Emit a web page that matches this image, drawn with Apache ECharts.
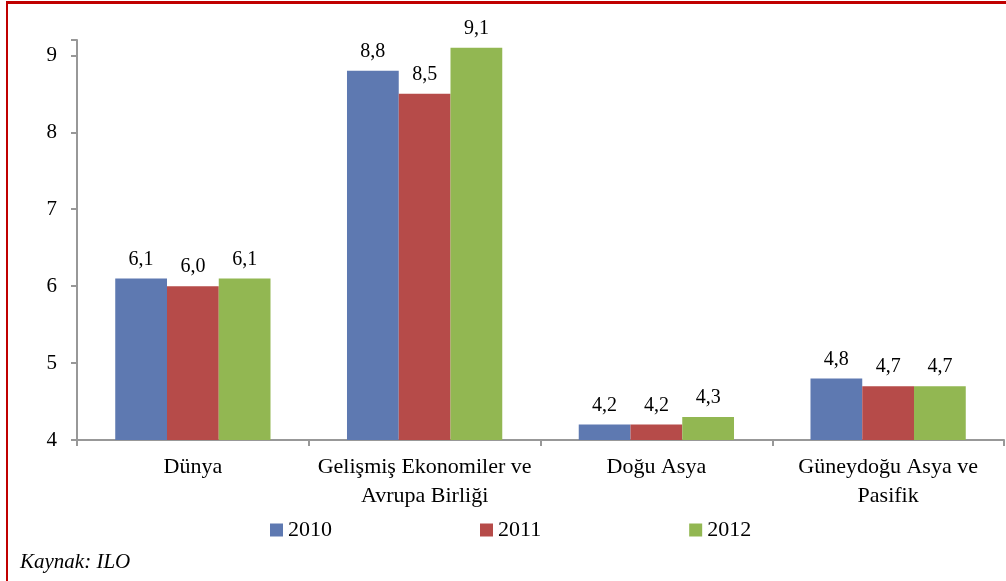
<!DOCTYPE html>
<html>
<head>
<meta charset="utf-8">
<script src="https://cdn.jsdelivr.net/npm/echarts@6/dist/echarts.min.js"></script>
<style>
  html, body { margin: 0; padding: 0; background: #fff; }
  #frame { position: absolute; left: 6px; top: 1px; width: 1000px; height: 580px;
           border-left: 2px solid #C00000; border-top: 3px solid #C00000; }
  #main { position: absolute; left: 0; top: 0; width: 1006px; height: 581px; }
</style>
</head>
<body>
<div id="frame"></div>
<div id="main"></div>
<script>
// chart data
var categories = ["Dünya", "Gelişmiş Ekonomiler ve\nAvrupa Birliği", "Doğu Asya", "Güneydoğu Asya ve\nPasifik"];
var years = ["2010", "2011", "2012"];
var values2010 = [6.1, 8.8, 4.2, 4.8];
var values2011 = [6.0, 8.5, 4.2, 4.7];
var values2012 = [6.1, 9.1, 4.3, 4.7];
var yTicks = [4, 5, 6, 7, 8, 9];

var colors = ["#5E79B1", "#B64B49", "#92B752"];
var serif = "'Liberation Serif', 'DejaVu Serif', serif";

var myChart = echarts.init(document.getElementById("main"));

function barSeries(name, data, color) {
  return {
    name: name,
    type: "bar",
    data: data,
    barGap: "0%",
    barCategoryGap: "33%",
    itemStyle: { color: color },
    label: {
      show: true,
      position: "top",
      distance: 9,
      color: "#000",
      fontFamily: serif,
      fontSize: 20,
      formatter: function (p) {
        return p.value.toFixed(1).replace(".", ",");
      }
    }
  };
}

var option = {
  animation: false,
  grid: { left: 77, right: 2, top: 40, bottom: 141 },
  legend: {
    data: years,
    bottom: 35,
    left: 265,
    itemWidth: 13,
    itemHeight: 13,
    itemGap: 148,
    icon: "rect",
    textStyle: { color: "#000", fontFamily: serif, fontSize: 22 }
  },
  xAxis: {
    type: "category",
    data: categories,
    axisLine: { lineStyle: { color: "#989898", width: 2 } },
    axisTick: { show: true, length: 6, lineStyle: { color: "#989898", width: 2 } },
    axisLabel: {
      color: "#000",
      fontFamily: serif,
      fontSize: 22,
      lineHeight: 29,
      margin: 13,
      interval: 0
    }
  },
  yAxis: {
    type: "value",
    min: 4,
    max: 9.2,
    interval: 1,
    splitLine: { show: false },
    axisLine: { show: true, lineStyle: { color: "#989898", width: 2 } },
    axisTick: { show: true, length: 6, lineStyle: { color: "#989898", width: 2 } },
    axisLabel: {
      color: "#000",
      fontFamily: serif,
      fontSize: 21,
      margin: 20,
      formatter: function (v) {
        return yTicks.indexOf(v) >= 0 ? String(v) : "";
      }
    }
  },
  graphic: [
    {
      type: "text",
      left: 20,
      top: 552,
      style: {
        text: "Kaynak: ILO",
        fill: "#000",
        font: "italic 21px " + serif
      }
    }
  ],
  series: [
    barSeries(years[0], values2010, colors[0]),
    barSeries(years[1], values2011, colors[1]),
    barSeries(years[2], values2012, colors[2])
  ]
};

myChart.setOption(option);
</script>
</body>
</html>
